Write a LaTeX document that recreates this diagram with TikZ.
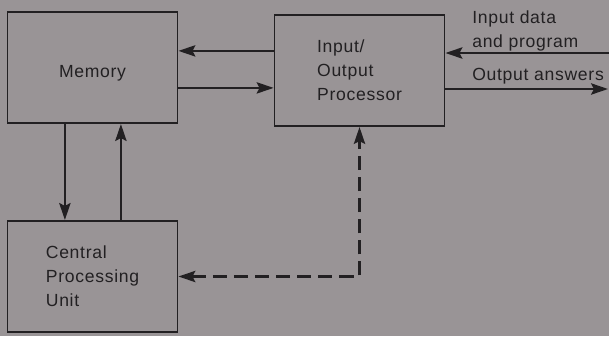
\documentclass[tikz,border=0pt]{standalone}
\usepackage{fontspec}
\setmainfont{Liberation Sans}[LetterSpace=4]
\usetikzlibrary{arrows.meta,positioning}
\definecolor{paper}{RGB}{153,148,150}
\definecolor{ink}{RGB}{34,32,34}

\begin{document}
\begin{tikzpicture}[x=0.025cm, y=-0.025cm,
    unit/.style={draw=ink, line width=1.3pt, minimum width=4.25cm, minimum height=2.78cm, align=left, font=\fontsize{12.5}{17}\selectfont, text=ink, inner sep=0pt},
    lbl/.style={align=left, font=\fontsize{12.5}{17.5}\selectfont, text=ink, inner sep=0pt},
    arr/.style={-{Stealth[length=12pt, width=8pt, inset=2pt]}, line width=1.7pt, draw=ink},
    dasharr/.style={{Stealth[length=12pt, width=8pt, inset=2pt]}-{Stealth[length=12pt, width=8pt, inset=2pt]}, line width=1.6pt, draw=ink, dash pattern=on 10pt off 5pt}
]
\fill[paper] (0,0) rectangle (609,336);
\useasboundingbox (0,0) rectangle (609,336);

\node[unit] (mem) at (92.5,67.5) {\raisebox{-4pt}[\height][\depth]{Memory}};
\node[unit] (iop) at (359.5,70.5) {Input/\\Output\\Processor};
\node[unit] (cpu) at (92.5,276.5) {Central\\Processing\\Unit};

\node[lbl, anchor=north west] (intxt) at (472,10) {Input data\\and program};
\node[lbl, anchor=base west] (outtxt) at (472,80) {Output answers};

\coordinate (inend) at (609,53);
\coordinate (outend) at (608,89);

\draw[arr] ([yshift=0.49cm]iop.west) -- ([yshift=0.49cm]iop.west -| mem.east);
\draw[arr] ([yshift=-0.51cm]mem.east) -- ([yshift=-0.51cm]mem.east -| iop.west);
\draw[arr] ([xshift=-0.69cm]mem.south) -- ([xshift=-0.69cm]mem.south |- cpu.north);
\draw[arr] ([xshift=0.71cm]cpu.north) -- ([xshift=0.71cm]cpu.north |- mem.south);
\draw[dasharr] (cpu.east) -| (iop.south);
\draw[arr] (inend) -- (inend -| iop.east);
\draw[arr] (outend -| iop.east) -- (outend);
\end{tikzpicture}
\end{document}
